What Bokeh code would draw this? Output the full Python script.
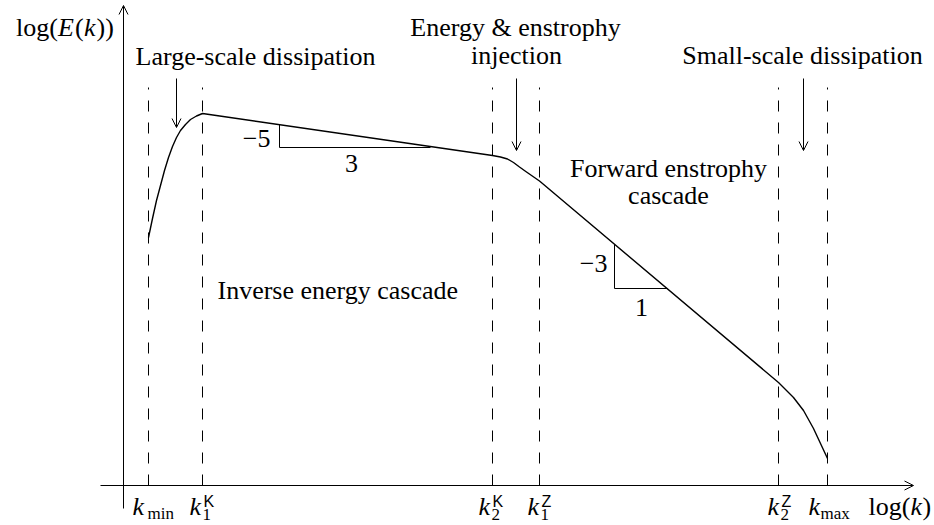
from bokeh.plotting import figure
from bokeh.models import Range1d, Arrow, OpenHead
from bokeh.core.properties import value
from bokeh.embed import file_html
from bokeh.resources import INLINE
import numpy as np

# Characteristic wavenumbers, positions along the log(k) axis (schematic units)
wavenumber_logk = [25, 79, 369, 416, 655, 704]   # k_min, k1^K, k2^K, k1^Z, k2^Z, k_max
dashed_top = 398

# Schematic energy spectrum log(E) against log(k)
spectrum_logk = [25, 29, 33, 37, 41, 45, 49, 53, 57, 62, 67, 73, 79,
                 369, 377, 384, 390, 396, 403, 416,
                 655, 670, 680, 690, 697, 704]
spectrum_logE = [248, 267, 285, 300, 315, 328, 339, 348, 355, 361, 366, 369.5, 372,
                 330, 328.5, 326.5, 323, 318.5, 313.5, 304.5,
                 103, 88, 75, 57, 42, 27]

# Slope triangles under the two power-law ranges
tri_left = [156, 491]
tri_right = [307, 544]
tri_base = [338, 197]

SERIF = "Liberation Serif"
SANS = "Liberation Sans"
F = 26

p = figure(width=934, height=525, x_range=Range1d(-123, 811), y_range=Range1d(-40, 485),
           output_backend="svg", toolbar_location=None, min_border=0,
           x_axis_type=None, y_axis_type=None)
p.grid.visible = False
p.outline_line_color = None
p.background_fill_color = "white"
p.border_fill_color = "white"

# axes with open arrow heads
p.add_layout(Arrow(end=OpenHead(size=9, line_width=1), x_start=0, y_start=-23,
                   x_end=0, y_end=480, line_width=1))
p.add_layout(Arrow(end=OpenHead(size=9, line_width=1), x_start=-23, y_start=0,
                   x_end=790, y_end=0, line_width=1))

# dashed markers at the characteristic wavenumbers
p.segment(x0=wavenumber_logk, y0=[0] * 6, x1=wavenumber_logk, y1=[dashed_top] * 6,
          line_color="black", line_width=1, line_dash="11 11")

# spectrum
p.line(spectrum_logk, spectrum_logE, line_color="black", line_width=1.4,
       line_join="round")

# slope triangles
for x0, x1, yb in zip(tri_left, tri_right, tri_base):
    top = float(np.interp(x0, spectrum_logk, spectrum_logE))
    p.line([x0, x0, x1], [top, yb, yb], line_color="black", line_width=1)

# injection / dissipation arrows
for xa, y0, y1 in [(53, 407, 358), (393, 407, 335), (680, 407, 335)]:
    p.add_layout(Arrow(end=OpenHead(size=9, line_width=1), x_start=xa, y_start=y0,
                       x_end=xa, y_end=y1, line_width=1))


def put(x, y, s, size=F, align="left", style="normal", font=SERIF):
    # y is the baseline; the text box is lifted so glyphs sit on it
    p.text(x=[x], y=[y + 0.4 * size], text=[s], text_font=value(font),
           text_font_size=value(f"{size}px"), text_font_style=style,
           text_align=align, text_baseline="alphabetic", text_color="black")


# y-axis label: log(E(k))
put(-107.5, 448, "log(")
put(-65.5, 448, "E", style="italic")
put(-48.5, 448, "(")
put(-39.5, 448, "k", style="italic")
put(-27, 448, "))")

# x-axis label: log(k)
put(745, -31, "log(")
put(787, -31, "k", style="italic")
put(799, -31, ")")

# region annotations
put(132, 419, "Large-scale dissipation", align="center")
put(392, 448, "Energy & enstrophy", align="center")
put(393, 420, "injection", align="center")
put(679, 420, "Small-scale dissipation", align="center")
put(545, 307, "Forward enstrophy", align="center")
put(545, 280, "cascade", align="center")
put(94, 185, "Inverse energy cascade", align="left")

# slope labels
put(147, 337, "\u22125", align="right")
put(228, 312, "3", align="center")
put(484, 212, "\u22123", align="right")
put(518, 168, "1", align="center")

# wavenumber tick labels
SUB = 17
SUP = 16
put(9, -31, "k", style="italic")
put(24, -35, "min", size=SUB)
for xk, sub, sup in [(66, "1", "K"), (355, "2", "K"), (404, "1", "Z"), (644, "2", "Z")]:
    put(xk, -31, "k", style="italic")
    put(xk + 13, -36, sub, size=SUB)
    put(xk + 14, -22, sup, size=SUP, font=SANS)
put(685, -31, "k", style="italic")
put(697, -35, "max", size=SUB)

open("out.html", "w").write(file_html(p, INLINE))
